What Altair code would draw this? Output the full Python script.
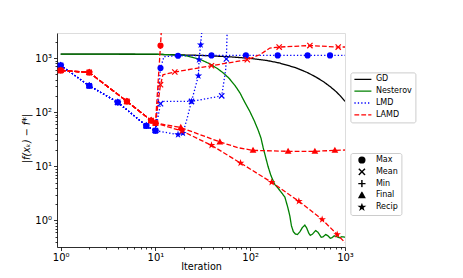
import altair as alt
import pandas as pd

STATS = ["Max", "Mean", "Min", "Final", "Recip"]
METHODS = ["GD", "Nesterov", "LMD", "LAMD"]
COLORS = ["#000000", "#008000", "#0000ff", "#ff0000"]
DASHES = [[1, 0], [1, 0], [1.3, 2.1], [4.8, 2.1]]
X_PATH = ("M-1,-0.72L-0.72,-1L0,-0.28L0.72,-1L1,-0.72L0.28,0L1,0.72L0.72,1"
          "L0,0.28L-0.72,1L-1,0.72L-0.28,0Z")
PLUS_PATH = ("M-0.2,-1L0.2,-1L0.2,-0.2L1,-0.2L1,0.2L0.2,0.2L0.2,1L-0.2,1"
             "L-0.2,0.2L-1,0.2L-1,-0.2L-0.2,-0.2Z")
STAR_PATH = ("M0,-1.3L0.292,-0.402L1.236,-0.402L0.472,0.153L0.764,1.052L0,0.497"
             "L-0.764,1.052L-0.472,0.153L-1.236,-0.402L-0.292,-0.402Z")
TRI_PATH = "M0,-1.2L1.1,0.8L-1.1,0.8Z"
SHAPES = ["circle", X_PATH, PLUS_PATH, TRI_PATH, STAR_PATH]

# GD
gd_k = [1, 10, 30, 60, 100, 150, 200, 300, 400, 500, 600, 700, 800, 900, 1000]
gd_v = [1185, 1170, 1120, 1055, 985, 900, 815, 665, 540, 440, 360, 295, 242, 197, 158]

# Nesterov
nes_k = [1, 3, 10, 20, 29, 37, 45, 52, 60, 70, 78, 88, 99, 110, 121, 130, 137, 145,
         154, 165, 182, 195, 210, 232, 250, 262, 272, 285, 300, 315, 335, 355, 377,
         395, 415, 430, 455, 490, 520, 560, 590, 625, 660, 700, 730, 770, 820, 870,
         930, 1000]
nes_v = [1185, 1185, 1180, 1120, 960, 790, 640, 530, 420, 300, 226, 150, 103, 70, 47,
         33, 22, 15, 10, 6.8, 4.6, 4.0, 3.4, 2.7, 1.7, 1.2, 0.8, 0.62, 0.56, 0.55,
         0.62, 0.74, 0.82, 0.72, 0.58, 0.53, 0.56, 0.65, 0.6, 0.49, 0.5, 0.55, 0.52,
         0.47, 0.48, 0.52, 0.5, 0.48, 0.5, 0.49]

# LMD (shared start, then per statistic)
lmd_shared_k = [1, 2, 4, 8, 10]
lmd_shared_v = [730, 308, 152, 56, 45.6]
lmd_max_k = [11.3, 12.3, 17.3, 39, 90, 195, 403, 695, 1000]
lmd_max_v = [654, 1060, 1100, 1117, 1117, 1117, 1117, 1117, 1117]
lmd_max_m = [1, 0, 1, 1, 1, 1, 1, 1, 0]
lmd_mean_k = [11.3, 12.3, 24, 50, 55, 56, 57.5]
lmd_mean_v = [143.5, 158, 158, 200, 600, 960, 5000]
lmd_mean_m = [1, 0, 1, 1, 0, 1, 0]
lmd_recip_k = [17.3, 19.5, 21.5, 24, 28.4, 28.8, 30, 31.5]
lmd_recip_v = [38.5, 41, 75, 158, 472, 930, 1760, 5000]
lmd_recip_m = [1, 1, 0, 1, 1, 1, 1, 0]

# LAMD
lamd_shared_k = [1, 2, 5, 9, 10]
lamd_shared_v = [590, 542, 158, 70, 63]
lamd_max_k = [11.3, 11.7]
lamd_max_v = [1707, 5000]
lamd_max_m = [1, 0]
lamd_mean_k = [11.3, 12, 16, 39, 93, 126, 161, 202, 426, 848, 1000]
lamd_mean_v = [322, 490, 552, 721, 930, 1150, 1530, 1595, 1700, 1595, 1600]
lamd_mean_m = [1, 0, 1, 1, 1, 0, 0, 1, 1, 1, 0]
lamd_final_k = [18.5, 47.8, 75, 107, 251, 481, 782, 1000]
lamd_final_v = [52, 28.2, 22, 19.7, 18.9, 18.9, 19.7, 20]
lamd_final_m = [1, 1, 0, 1, 1, 1, 1, 0]
lamd_recip_k = [19, 39, 79, 168, 326, 574, 827, 1000]
lamd_recip_v = [45, 24.4, 11.5, 5.07, 2.26, 1.04, 0.55, 0.39]
lamd_recip_m = [1, 1, 1, 1, 1, 1, 1, 0]

rows = []


def add(method, stat, ks, vs, ms):
    for i, (k, v, m) in enumerate(zip(ks, vs, ms)):
        rows.append(dict(k=k, v=v, method=method, stat=stat,
                         series=method + "-" + stat, idx=i, mk=m))


add("GD", "none", gd_k, gd_v, [0] * len(gd_k))
add("Nesterov", "none", nes_k, nes_v, [0] * len(nes_k))

sh = [1] * 5
add("LMD", "Max", lmd_shared_k + lmd_max_k, lmd_shared_v + lmd_max_v, sh + lmd_max_m)
add("LMD", "Mean", lmd_shared_k + lmd_mean_k, lmd_shared_v + lmd_mean_v, sh + lmd_mean_m)
add("LMD", "Min", lmd_shared_k, lmd_shared_v, sh)
add("LMD", "Final", lmd_shared_k, lmd_shared_v, sh)
add("LMD", "Recip", lmd_shared_k + lmd_recip_k, lmd_shared_v + lmd_recip_v, sh + lmd_recip_m)

add("LAMD", "Max", lamd_shared_k + lamd_max_k, lamd_shared_v + lamd_max_v, sh + lamd_max_m)
add("LAMD", "Mean", lamd_shared_k + lamd_mean_k, lamd_shared_v + lamd_mean_v, sh + lamd_mean_m)
add("LAMD", "Min", lamd_shared_k, lamd_shared_v, sh)
add("LAMD", "Final", lamd_shared_k + lamd_final_k, lamd_shared_v + lamd_final_v, sh + lamd_final_m)
add("LAMD", "Recip", lamd_shared_k + lamd_recip_k, lamd_shared_v + lamd_recip_v, sh + lamd_recip_m)

df = pd.DataFrame(rows)

x_ticks = [m * 10 ** e for e in range(0, 3) for m in range(1, 10)] + [1000]
y_ticks = [0.4, 0.5, 0.6, 0.7, 0.8, 0.9] + \
    [m * 10 ** e for e in range(0, 3) for m in range(1, 10)] + [1000, 2000]

LABEL_EXPR = ("datum.value == 1 ? '10⁰' : datum.value == 10 ? '10¹' : "
              "datum.value == 100 ? '10²' : datum.value == 1000 ? '10³' : ''")
MAJOR_TEST = "indexof([1, 10, 100, 1000], datum.value) >= 0"

FONT = "DejaVu Sans"

x_enc = alt.X("k:Q", scale=alt.Scale(type="log", domain=[0.914, 1000], nice=False),
              axis=alt.Axis(values=x_ticks, labelExpr=LABEL_EXPR, grid=False,
                            title="Iteration", labelFlush=False, labelOverlap=False,
                            tickSize={"condition": {"test": MAJOR_TEST, "value": 3.5}, "value": 2},
                            tickColor="black", domainColor="black", tickWidth=0.8,
                            domainWidth=0.8, labelFontSize=10, labelPadding=2,
                            titleFontSize=9.6, titleFontWeight="normal",
                            titleBaseline="alphabetic", titleY=22, labelColor="black",
                            titleColor="black", labelFont=FONT, titleFont=FONT))
y_enc = alt.Y("v:Q", scale=alt.Scale(type="log", domain=[0.323, 2900], nice=False),
              axis=alt.Axis(values=y_ticks, labelExpr=LABEL_EXPR, grid=False,
                            title="|f(xₖ) − f*|", labelOverlap=False, labelFlush=False,
                            tickSize={"condition": {"test": MAJOR_TEST, "value": 3.5}, "value": 2},
                            tickColor="black", domainColor="black", tickWidth=0.8,
                            domainWidth=0.8, labelFontSize=10, labelPadding=2,
                            titleFontSize=9.6, titleFontWeight="normal",
                            titleFontStyle="italic", titleAngle=-90,
                            titleBaseline="middle", titleAlign="center",
                            titleX=-31, titleY=105, labelColor="black",
                            titleColor="black", labelFont=FONT, titleFont=FONT))

legend_common = dict(title=None, orient="none", legendX=293.4, padding=3,
                     rowPadding=3.8, clipHeight=8, labelFontSize=8, labelFont=FONT,
                     labelColor="black", strokeColor="#cccccc", fillColor="white",
                     cornerRadius=2)

color_scale = alt.Scale(domain=METHODS, range=COLORS)

lines = alt.Chart(df).mark_line(clip=True, strokeWidth=1.3).encode(
    x=x_enc,
    y=y_enc,
    color=alt.Color("method:N", scale=color_scale,
                    legend=alt.Legend(legendY=39.4, symbolType="stroke", symbolSize=289,
                                      symbolStrokeWidth=1.3, labelOffset=3.5,
                                      **legend_common)),
    strokeDash=alt.StrokeDash("method:N", scale=alt.Scale(domain=METHODS, range=DASHES),
                              legend=alt.Legend(legendY=39.4, symbolType="stroke",
                                                symbolSize=289, symbolStrokeWidth=1.3,
                                                labelOffset=3.5, **legend_common)),
    detail="series:N",
    order="idx:Q",
)

points = alt.Chart(df).transform_filter("datum.mk == 1").mark_point(
    filled=True, size=38, opacity=1, clip=True
).encode(
    x=x_enc,
    y=y_enc,
    color=alt.Color("method:N", scale=color_scale),
    shape=alt.Shape("stat:N", scale=alt.Scale(domain=STATS, range=SHAPES),
                    legend=alt.Legend(legendY=120, symbolSize=52, symbolFillColor="black",
                                      symbolStrokeColor="black", symbolStrokeWidth=0,
                                      symbolOffset=4.5, labelOffset=10, **legend_common)),
)

chart = alt.layer(lines, points).properties(
    width=288, height=214,
    autosize="none",
    padding={"left": 49, "top": 25, "right": 110, "bottom": 23},
).configure_view(stroke="black", strokeWidth=0.8).configure_legend(
    strokeColor="#cccccc", fillColor="white", cornerRadius=2, padding=3
).configure(background="white")

chart.save("out.html", embed_options={"renderer": "svg", "actions": False})
